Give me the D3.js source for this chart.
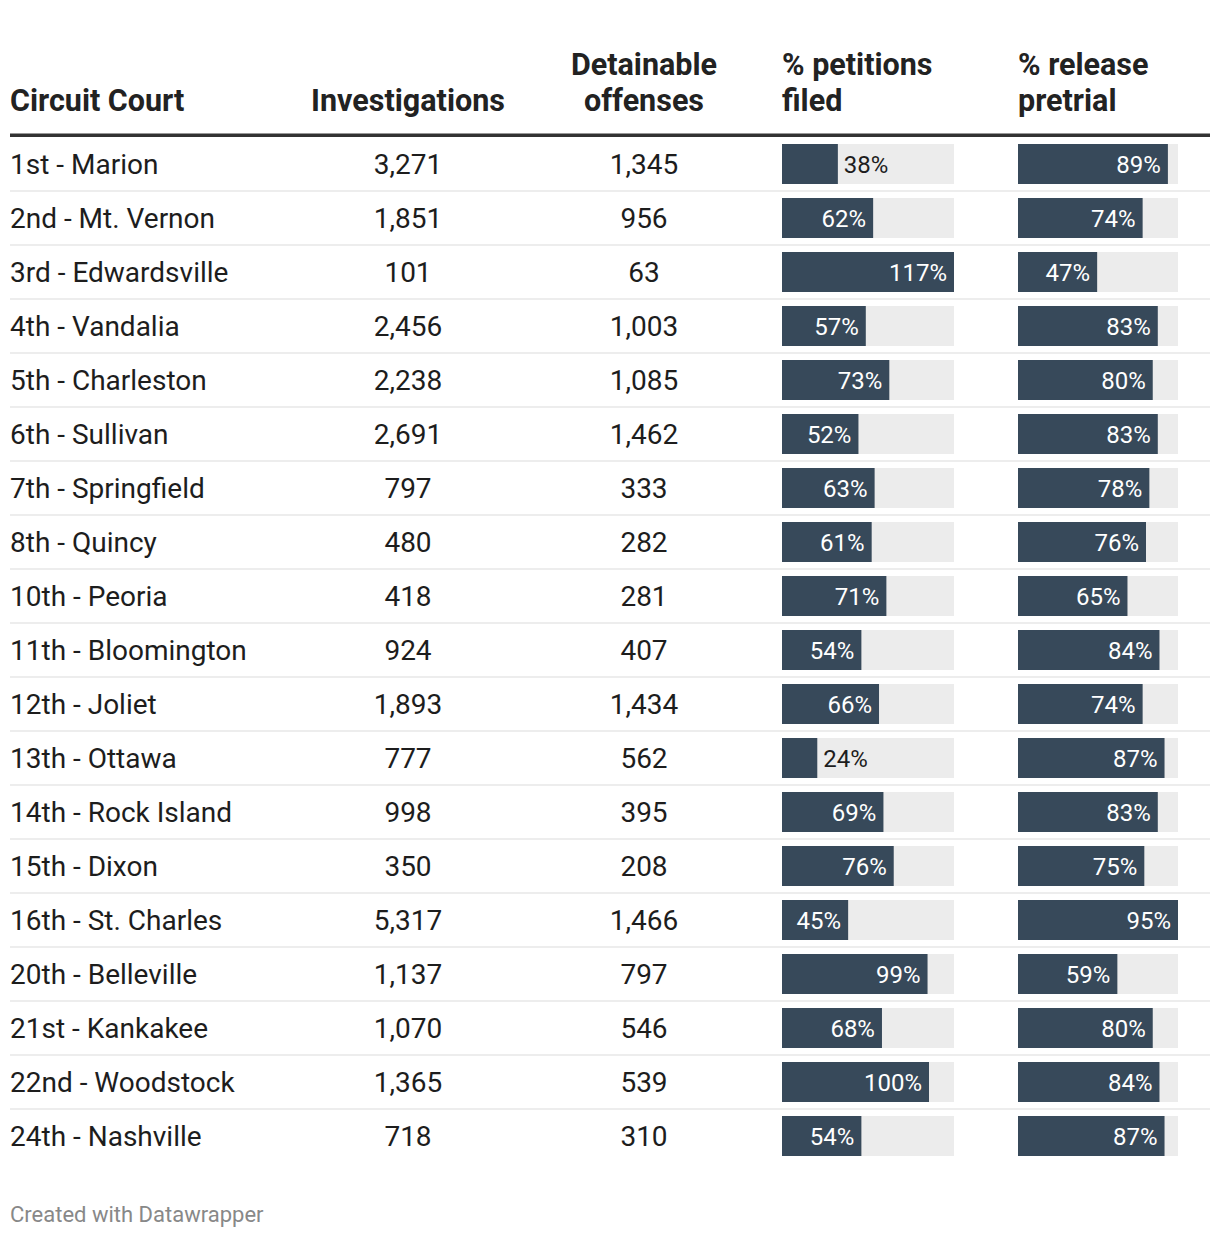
<!DOCTYPE html>
<html><head><meta charset="utf-8">
<script src="https://cdn.jsdelivr.net/npm/d3@7"></script>
<style>body{margin:0;background:#fff;}svg{display:block;font-family:Roboto,sans-serif;}</style>
</head><body><svg id="c" width="1220" height="1238"></svg>
<script>
const courts = ["1st - Marion","2nd - Mt. Vernon","3rd - Edwardsville","4th - Vandalia","5th - Charleston","6th - Sullivan","7th - Springfield","8th - Quincy","10th - Peoria","11th - Bloomington","12th - Joliet","13th - Ottawa","14th - Rock Island","15th - Dixon","16th - St. Charles","20th - Belleville","21st - Kankakee","22nd - Woodstock","24th - Nashville"];
const investigations = [3271,1851,101,2456,2238,2691,797,480,418,924,1893,777,998,350,5317,1137,1070,1365,718];
const detainable = [1345,956,63,1003,1085,1462,333,282,281,407,1434,562,395,208,1466,797,546,539,310];
const petitions = [38,62,117,57,73,52,63,61,71,54,66,24,69,76,45,99,68,100,54];
const release = [89,74,47,83,80,83,78,76,65,84,74,87,83,75,95,59,80,84,87];
const headers = [["Circuit Court"],["Investigations"],["Detainable","offenses"],["% petitions","filed"],["% release","pretrial"]];

const svg = d3.select("#c");
const FS = 28, rowH = 54, top0 = 137;
const fmt = d3.format(",");
const yRow = d3.scaleBand().domain(d3.range(courts.length)).range([top0, top0 + rowH*courts.length]);
const xPet = d3.scaleLinear().domain([0, d3.max(petitions)]).range([782, 954]);
const xRel = d3.scaleLinear().domain([0, d3.max(release)]).range([1018, 1178]);
const BAR = "#37495a", BG = "#ececec", TXT = "#1d1d1d";

// headers
const hx = [{x:10,a:"start"},{x:408,a:"middle"},{x:644,a:"middle"},{x:782,a:"start"},{x:1018,a:"start"}];
headers.forEach((h,i)=>{
  h.forEach((line,j)=>{
    svg.append("text").attr("x",hx[i].x).attr("y",111 - (h.length-1-j)*36)
      .attr("text-anchor",hx[i].a).attr("font-size",30.5).attr("font-weight",700).attr("fill","#222").text(line);
  });
});
svg.append("rect").attr("x",10).attr("y",133.5).attr("width",1200).attr("height",3.5).attr("fill","#333");

const rows = svg.selectAll("g.row").data(courts).join("g").attr("class","row")
  .attr("transform",(d,i)=>`translate(0,${yRow(i)})`);
rows.filter((d,i)=>i<courts.length-1).append("rect").attr("x",10).attr("y",rowH-1).attr("width",1200).attr("height",2).attr("fill","#ededed");
const base = rowH/2 + FS*0.36;
rows.append("text").attr("x",10).attr("y",base).attr("font-size",FS).attr("fill",TXT).text(d=>d);
rows.append("text").attr("x",408).attr("y",base).attr("text-anchor","middle").attr("font-size",FS).attr("fill",TXT).text((d,i)=>fmt(investigations[i]));
rows.append("text").attr("x",644).attr("y",base).attr("text-anchor","middle").attr("font-size",FS).attr("fill",TXT).text((d,i)=>fmt(detainable[i]));

function barCol(vals, x){
  const [x0,x1] = x.range();
  rows.append("rect").attr("x",x0).attr("y",7).attr("width",x1-x0).attr("height",40).attr("fill",BG);
  rows.append("rect").attr("x",x0).attr("y",7).attr("width",(d,i)=>x(vals[i])-x0).attr("height",40).attr("fill",BAR);
  rows.append("text").attr("y",rowH/2 + 24*0.36).attr("font-size",24).text((d,i)=>vals[i]+"%")
    .each(function(d,i){
      const t = d3.select(this), w = this.getComputedTextLength(), bw = x(vals[i])-x0;
      if (w + 14 < bw) t.attr("x",x(vals[i])-7).attr("text-anchor","end").attr("fill","#fff");
      else t.attr("x",x(vals[i])+6).attr("text-anchor","start").attr("fill",TXT);
    });
}
barCol(petitions, xPet);
barCol(release, xRel);

svg.append("text").attr("x",10).attr("y",1222).attr("font-size",22).attr("fill","#888").text("Created with Datawrapper");
</script></body></html>
